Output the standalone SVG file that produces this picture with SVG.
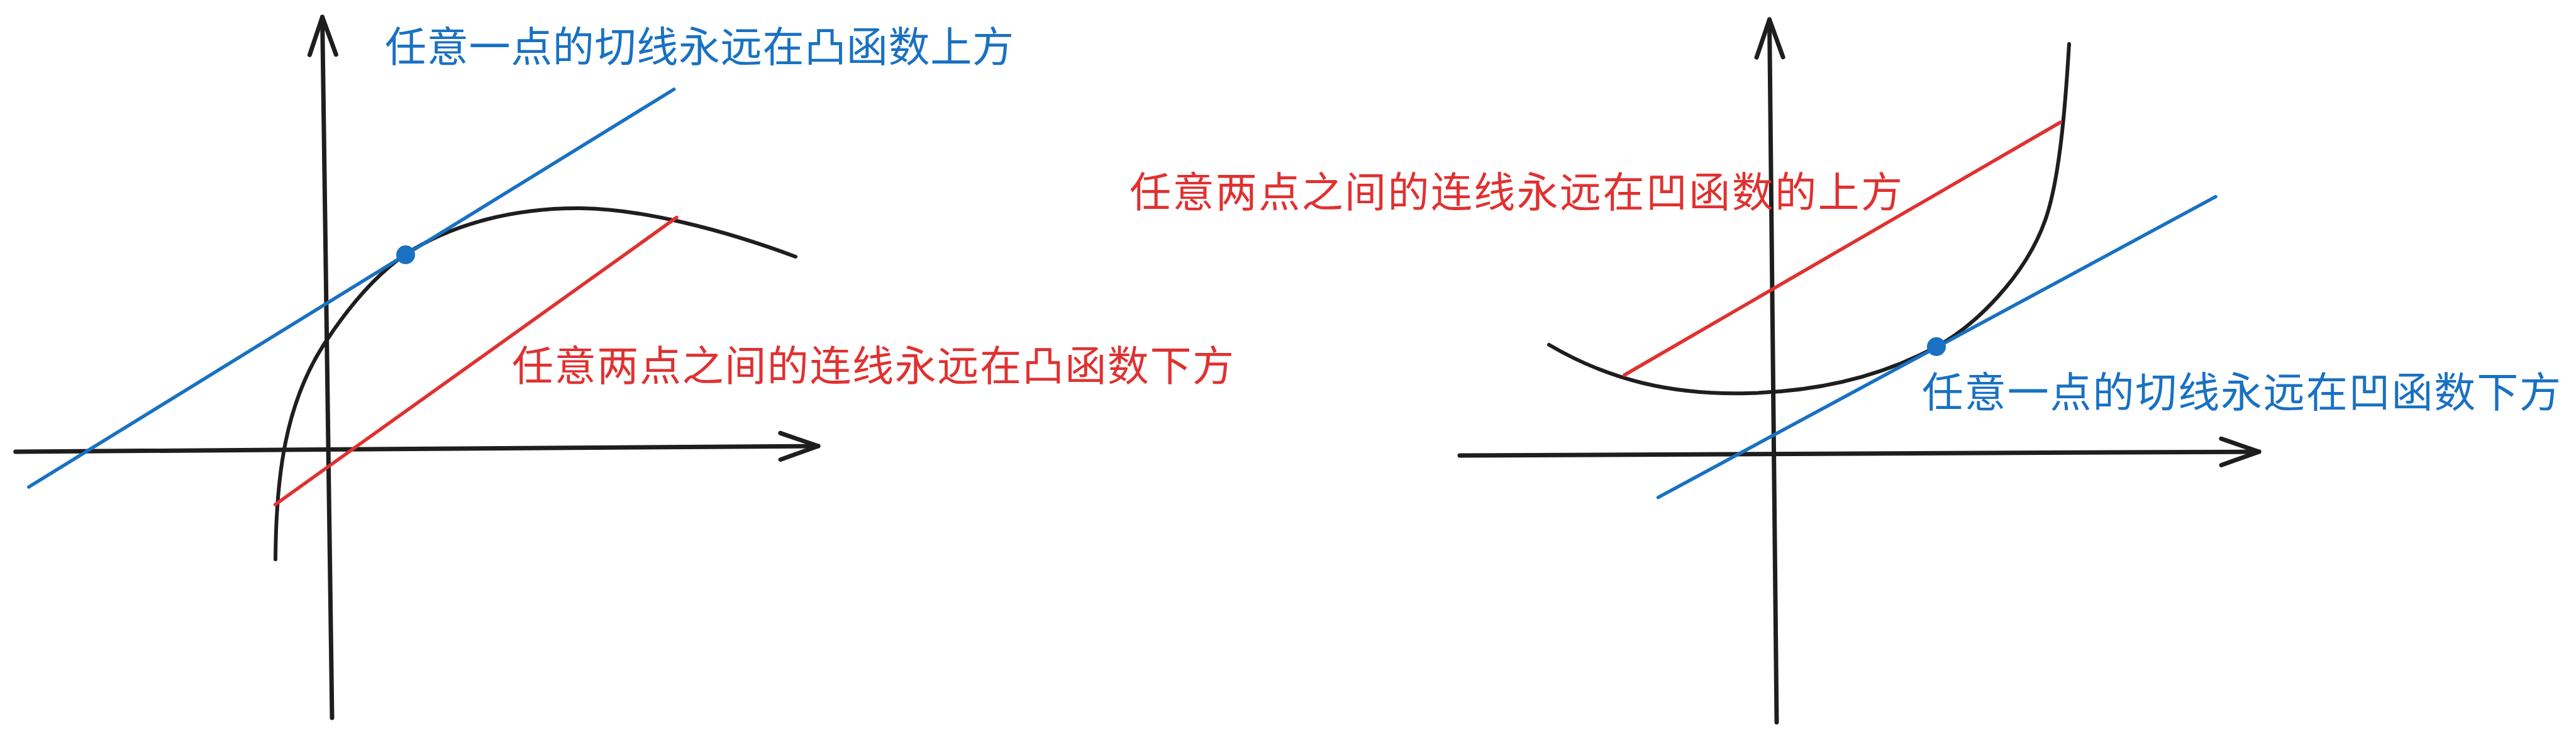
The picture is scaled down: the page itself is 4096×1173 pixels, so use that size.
<svg xmlns="http://www.w3.org/2000/svg" width="4096" height="1173" viewBox="0 0 4096 1173">
<style>
.axis{fill:none;stroke:#1e1e1e;stroke-width:7;stroke-linecap:round;stroke-linejoin:round}
.curve{fill:none;stroke:#1e1e1e;stroke-width:6;stroke-linecap:round;stroke-linejoin:round}
.blue{fill:none;stroke:#1971c2;stroke-width:5.5;stroke-linecap:round}
.red{fill:none;stroke:#e03131;stroke-width:5.5;stroke-linecap:round}
.dot{fill:#1971c2}
.lbl{font-family:"Noto Sans CJK SC","Noto Sans",sans-serif;font-size:66px}
.tb{fill:#1971c2}
.tr{fill:#e03131}
</style>
<defs>
<marker id="arr" markerUnits="userSpaceOnUse" viewBox="-70 -30 80 60" markerWidth="80" markerHeight="60" refX="0" refY="0" orient="auto" overflow="visible">
<path d="M-60,-21 L0,0 L-60,21" fill="none" stroke="#1e1e1e" stroke-width="7" stroke-linecap="round" stroke-linejoin="round"/>
</marker>
</defs>
<rect width="4096" height="1173" fill="#ffffff"/>
<g id="connectors">
<g id="left-graph">
<path id="left-y-axis" class="axis" d="M528,1141 L512.5,27" marker-end="url(#arr)"/>
<path id="left-x-axis" class="axis" d="M24.7,718 L1301,709" marker-end="url(#arr)"/>
<path id="left-curve" class="curve" d="M438,889 C439,760 452,640 520,540 C560,480 600,435 645,404 C720,355 820,330 924,331 C1020,332 1150,365 1265,408"/>
<path id="left-tangent" class="blue" d="M45.8,774 L1071.6,142"/>
<path id="left-chord" class="red" d="M437.6,802 L1076,345.6"/>
<circle id="left-dot" class="dot" cx="645" cy="405" r="15"/>
</g>
<g id="right-graph">
<path id="right-y-axis" class="axis" d="M2825,1148 L2813.5,31" marker-end="url(#arr)"/>
<path id="right-x-axis" class="axis" d="M2321,724 L3592,718" marker-end="url(#arr)"/>
<path id="right-curve" class="curve" d="M2463,548 C2560,605 2660,628 2780,625 C2900,622 3000,594 3079,551 C3140,518 3220,440 3252,350 C3275,285 3284,170 3290,70"/>
<path id="right-chord" class="red" d="M2583,596 L3276,194.5"/>
<path id="right-tangent" class="blue" d="M2636.6,790.6 L3523,312.7"/>
<circle id="right-dot" class="dot" cx="3079" cy="551" r="15"/>
</g>
</g>
<g id="label-left-tangent"><text class="lbl tb" x="612" y="98" textLength="1000" lengthAdjust="spacing">任意一点的切线永远在凸函数上方</text></g>
<g id="label-left-chord"><text class="lbl tr" x="814" y="605" textLength="1148" lengthAdjust="spacing">任意两点之间的连线永远在凸函数下方</text></g>
<g id="label-right-chord"><text class="lbl tr" x="1796" y="329" textLength="1229" lengthAdjust="spacing">任意两点之间的连线永远在凹函数的上方</text></g>
<g id="label-right-tangent"><text class="lbl tb" x="3056" y="647" textLength="1016" lengthAdjust="spacing">任意一点的切线永远在凹函数下方</text></g>
</svg>
